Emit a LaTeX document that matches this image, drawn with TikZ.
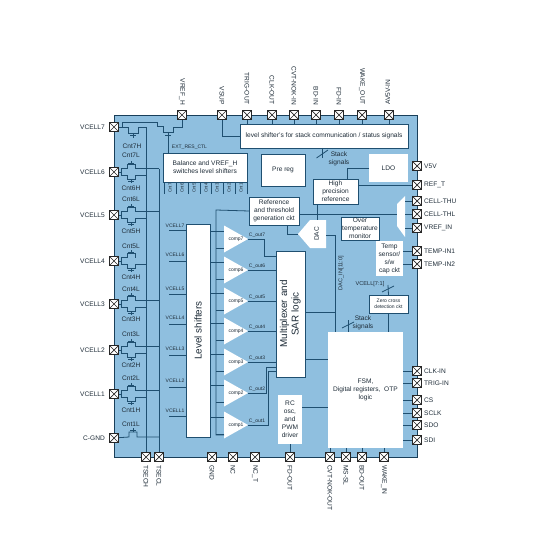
\documentclass[tikz,border=0pt]{standalone}
\usepackage{fontspec}
\setmainfont{Liberation Sans}

\definecolor{chipblue}{HTML}{8FBFDF}
\definecolor{wirecol}{HTML}{1F4F70}
\definecolor{textcol}{HTML}{1E2C38}

\tikzset{
    wire/.style={draw=wirecol, line width=0.8pt},
    pinbox/.style={draw=black!85, fill=white, line width=0.7pt, minimum size=9.5pt, inner sep=0pt, outer sep=0pt,
        path picture={\draw[black!85, line width=0.7pt] (path picture bounding box.north west) -- (path picture bounding box.south east) (path picture bounding box.north east) -- (path picture bounding box.south west);}},
    txt/.style={text=textcol, inner sep=0pt, align=center, font=\fontsize{6.6}{8}\selectfont},
    smalltxt/.style={txt, font=\fontsize{5}{6}\selectfont},
    bigtxt/.style={txt, font=\fontsize{9.9}{11.5}\selectfont},
    wbox/.style={txt, fill=white, inner sep=0pt, outer sep=0pt},
    dbox/.style={wbox, draw=wirecol, line width=0.8pt},
}

\begin{document}
\begin{tikzpicture}[x=1pt, y=-1pt]

    \useasboundingbox (0,0) rectangle (540,540);

    % --- Chip body ---
    \fill[chipblue] (114,115) rectangle (417,457);
    \draw[wirecol!80!black, line width=0.9pt] (114,115) rectangle (417,457);

    % --- Pins on the four sides ---
    \foreach \pn/\px/\ptxt in {pvrefh/182/VREF\_H, pvsup/222/VSUP, ptrigout/247/TRIG-OUT, pclkout/272/CLK-OUT, pcvtin/294/CVT-NOK-IN, pbdin/316/BD-IN, pfdin/339/FD-IN, pwakeout/362/WAKE\_OUT} {
        \node[pinbox] (\pn) at (\px,115) {};
        \node[txt, rotate=-90, anchor=east] (\pn-lbl) at (\px,105) {\ptxt};
    }
    \node[pinbox] (pavin) at (389,115) {};
    \node[txt, rotate=90, anchor=west] (pavin-lbl) at (388,105) {AV5V-IN};

    \foreach \pn/\px/\ptxt in {ptsech/146/TSECH, ptsecl/159/TSECL, pgnd/212/GND, pnc/233/NC, pnct/255/NC\_T, pfdout/290/FD-OUT, pcvtout/330/CVT-NOK-OUT, pmssl/346/MS-SL, pbdout/362/BD-OUT, pwakein/384/WAKE\_IN} {
        \node[pinbox] (\pn) at (\px,457) {};
        \node[txt, rotate=-90, anchor=west] (\pn-lbl) at (\px,465) {\ptxt};
    }

    \foreach \pn/\py/\ptxt in {pv5v/166/V5V, preft/185/REF\_T, pthu/201/CELL-THU, pthl/214/CELL-THL, pvrefin/228/VREF\_IN, ptemp1/251/TEMP-IN1, ptemp2/264/TEMP-IN2, pclkin/371/CLK-IN, ptrigin/383/TRIG-IN, pcs/400/CS, psclk/413/SCLK, psdo/425/SDO, psdi/440/SDI} {
        \node[pinbox] (\pn) at (417,\py) {};
        \node[txt, anchor=west] (\pn-lbl) at (424,\py) {\ptxt};
    }

    \foreach \pn/\py/\ptxt in {pc7/127/VCELL7, pc6/172/VCELL6, pc5/215/VCELL5, pc4/261/VCELL4, pc3/304/VCELL3, pc2/350/VCELL2, pc1/394/VCELL1, pcgnd/438/C-GND} {
        \node[pinbox] (\pn) at (114,\py) {};
        \node[txt, anchor=east] (\pn-lbl) at (105,\py) {\ptxt};
    }

    % --- Blocks ---
    \node[dbox, minimum width=168pt, minimum height=24pt] (lvlbox) at (324,136) {level shifter's for stack communication / status signals};
    \node[dbox, minimum width=84pt, minimum height=29pt] (balbox) at (205,167.5) {Balance and VREF\_H\\switches level shifters};
    \node[dbox, minimum width=44pt, minimum height=32pt] (preg) at (283,170) {Pre reg};
    \node[wbox, minimum width=39pt, minimum height=28pt] (ldo) at (388.5,168) {LDO};
    \node[dbox, minimum width=45pt, minimum height=25pt] (hpref) at (335.5,191.5) {High\\precision\\reference};
    \node[dbox, minimum width=50pt, minimum height=28pt] (refgen) at (274,211) {Reference\\and threshold\\generation ckt};
    \node[dbox, minimum width=38pt, minimum height=23pt] (otemp) at (360,228.5) {Over\\temperature\\monitor};
    \node[wbox, minimum width=27pt, minimum height=35pt] (tsens) at (389.5,258.5) {Temp\\sensor/\\s/w\\cap ckt};
    \node[dbox, smalltxt, minimum width=39pt, minimum height=18pt] (zcd) at (388.5,304) {Zero cross\\detection ckt};
    \node[wbox, minimum width=75pt, minimum height=116pt] (fsm) at (365.5,390) {FSM,\\Digital registers,\ \ OTP\\logic};
    \node[wbox, minimum width=24pt, minimum height=49pt] (rcosc) at (290,419.5) {RC\\osc,\\and\\PWM\\driver};
    \node[dbox, bigtxt, minimum width=24pt, minimum height=213pt] (lshift) at (198,330.5) {\rotatebox{90}{Level shifters}};
    \node[dbox, bigtxt, minimum width=29pt, minimum height=126pt] (muxsar) at (290.5,314) {\rotatebox{90}{\begin{tabular}{@{}c@{}}Multiplexer and\\SAR logic\end{tabular}}};

    % DAC and input selector
    \fill[white] (298,234) -- (310,220) -- (326,220) -- (326,248) -- (310,248) -- cycle;
    \node[txt, rotate=90] (dac) at (316.5,234) {DAC};
    \fill[white] (397,204) -- (405,196) -- (405,237) -- (397,226) -- cycle;
    \coordinate (selin) at (397,214);

    % --- Cnt outputs under the balance block ---
    \foreach \cx/\cn in {170/7, 182/6, 194/5, 206/4, 217/3, 229/2, 241/1} {
        \node[smalltxt, rotate=90, font=\fontsize{4.5}{5}\selectfont] (cnt\cn) at (\cx,188) {Cnt\cn};
        \draw[wire] (\cx-6,182) -- (\cx-6,194);
    }
    \draw[wire] (247,182) -- (247,194);

    % --- Comparators ---
    \foreach \cn/\cy in {7/239, 6/270, 5/301, 4/331, 3/362, 2/393, 1/425} {
        \fill[white] (224,\cy-13.5) -- (248,\cy) -- (224,\cy+13.5) -- cycle;
        \node[smalltxt] (comp\cn) at (236,\cy) {comp\cn};
        \coordinate (out\cn) at (248,\cy);
        \draw[wire] (lshift.east |- 0,\cy-8) -- (224,\cy-8);
        \draw[wire] (216,\cy+9) -- (224,\cy+9);
        \node[smalltxt] (cout\cn) at (257,\cy-4) {C\_out\cn};
    }
    % reference ladder into the comparators
    \draw[wire] (refgen.west) -- (216,210) -- (216,435) -- (224,435);

    % --- Comparator outputs into the SAR block ---
    \draw[wire] (out7) -- (264,239) -- (264,256) -- (muxsar.west |- 0,256);
    \foreach \cn in {6,5,4,3} {
        \draw[wire] (out\cn) -- (out\cn -| muxsar.west);
    }
    \draw[wire] (out2) -- (266,393) -- (266,367) -- (muxsar.west |- 0,367);
    \draw[wire] (out1) -- (268,425) -- (268,371) -- (muxsar.west |- 0,371);

    % --- VCELL lines into the level shifters ---
    \foreach \cn/\vy/\ly in {7/230/226, 6/261/255, 5/294/289, 4/324/318, 3/355/349, 2/387/381, 1/416/411} {
        \draw[wire] (169,\vy) -- (lshift.west |- 0,\vy);
        \node[smalltxt] (vin\cn) at (175,\ly) {VCELL\cn};
    }

    % --- Balance switches on the left ---
    \draw[wire] (146,127) -- (ptsech);
    \draw[wire] (159,169) -- (ptsecl);
    \foreach \pn/\vy/\xu/\ltop/\ytop/\lbot/\ybot in {pc6/172/159/Cnt7L/155/Cnt6H/188, pc5/215/159/Cnt6L/199/Cnt5H/231, pc4/261/135/Cnt5L/246/Cnt4H/277, pc3/304/159/Cnt4L/289/Cnt3H/319, pc2/350/159/Cnt3L/334/Cnt2H/365, pc1/394/159/Cnt2L/378/Cnt1H/410} {
        \draw[wire] (\pn) -- (121,\vy);
        \draw[wire] (\xu,\vy-3.5) -- (135,\vy-3.5) -- (135,\vy-7.5) -- (127,\vy-7.5) -- (127,\vy-3.5) -- (121,\vy-3.5) -- (121,\vy+3.5) -- (127,\vy+3.5) -- (127,\vy+7.5) -- (135,\vy+7.5) -- (135,\vy+3.5) -- (146,\vy+3.5);
        \draw[wire] (131,\vy-7.5) -- (131,\vy-11);
        \draw[wire] (131,\vy+7.5) -- (131,\vy+11);
        \draw[wire] (128,\vy-9) -- (134,\vy-9);
        \draw[wire] (128,\vy+9) -- (134,\vy+9);
        \node[txt] (\pn-t) at (131,\ytop) {\ltop};
        \node[txt] (\pn-b) at (131,\ybot) {\lbot};
    }
    % top switch pair
    \draw[wire] (pc7) -- (128,127) -- (128,133) -- (138,133) -- (138,127) -- (146,127);
    \draw[wire] (133,133) -- (133,138);
    \draw[wire] (130,135) -- (136,135);
    \node[txt] (cnt7h) at (132,146) {Cnt7H};
    \draw[wire] (122,127) -- (122,122) -- (157,122) -- (157,126) -- (163,126) -- (163,132) -- (173,132) -- (173,127) -- (182,127) -- (pvrefh);
    \draw[wire] (168,132) -- (168,0 |- balbox.north);
    \draw[wire] (165,135) -- (171,135);
    \node[smalltxt] (extres) at (189.5,147) {EXT\_RES\_CTL};
    % bottom switch
    \draw[wire] (pcgnd) -- (129,437) -- (129,432) -- (137,432) -- (137,437) -- (159,437);
    \draw[wire] (133,432) -- (133,428);
    \draw[wire] (130,430) -- (136,430);
    \node[txt] (cnt1l) at (131,424) {Cnt1L};

    % --- Top side wiring ---
    \draw[wire] (pvsup) |- (lvlbox.west);
    \foreach \pn in {ptrigout, pclkout, pcvtin, pbdin, pfdin, pwakeout, pavin} {
        \draw[wire] (\pn) -- (\pn |- lvlbox.north);
    }
    \draw[wire] (322,148) -- (322,158);
    \draw[wire] (316.5,158) -- (328,150);
    \node[txt] (stack1) at (339,159) {Stack\\signals};

    % --- Reference section ---
    \draw[wire] (ldo.west) -- (347,168) -- (347,179);
    \draw[wire] (hpref.east |- preft) -- (preft);
    \draw[wire] (317,204) -- (317,220);
    \draw[wire] (refgen.east |- selin) -- (selin);
    \draw[wire] (287,225) -- (287,234) -- (298,234);
    \draw[wire] (326,235) -- (335,235) -- (335,332);
    \node[smalltxt, rotate=90, font=\fontsize{5.6}{6}\selectfont] (dacin) at (341,273) {DAC\_IN[11:0]};
    \draw[wire] (muxsar.east |- 0,312) -- (335,312);
    \foreach \pn in {pthu, pthl, pvrefin} {
        \draw[wire] (405,0 |- \pn) -- (\pn);
    }
    \foreach \pn in {ptemp1, ptemp2} {
        \draw[wire] (\pn -| tsens.east) -- (\pn);
    }

    % --- FSM connections ---
    \draw[wire] (muxsar.east |- 0,359) -- (fsm.west |- 0,359);
    \draw[wire] (rcosc.east |- 0,407) -- (fsm.west |- 0,407);
    \draw[wire] (rcosc.south) -- (pfdout);
    \foreach \pn in {pclkin, ptrigin, pcs, psclk, psdo, psdi} {
        \draw[wire] (\pn -| fsm.east) -- (\pn);
    }
    \foreach \pn in {pcvtout, pmssl, pbdout, pwakein} {
        \draw[wire] (\pn |- fsm.south) -- (\pn);
    }
    \draw[wire] (zcd.south) -- (zcd.south |- fsm.north);
    \draw[wire] (zcd.north) -- (388,285);
    \draw[wire] (382,292) -- (394,286);
    \node[smalltxt, font=\fontsize{5.6}{6}\selectfont] (vcellbus) at (370,284) {VCELL[7:1]};
    \draw[wire] (348,320) -- (348,332);
    \draw[wire] (342,328) -- (354,322);
    \node[txt] (stack2) at (363,323) {Stack\\signals};

\end{tikzpicture}
\end{document}
